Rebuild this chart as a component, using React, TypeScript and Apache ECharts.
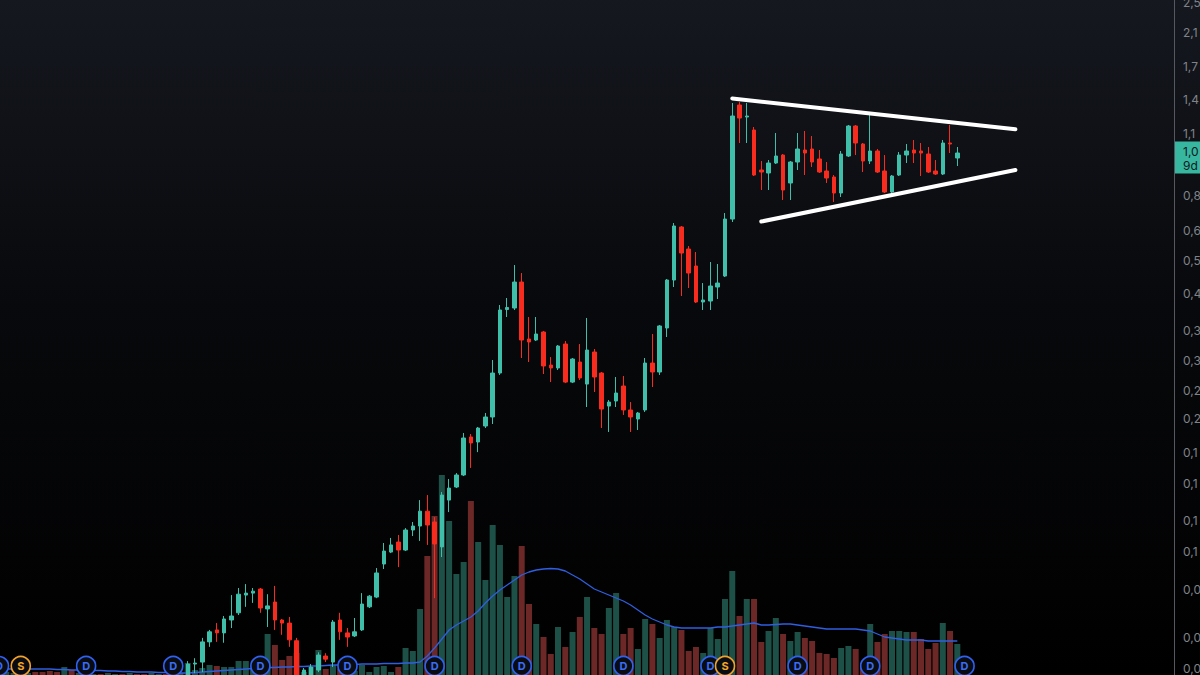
import React, { useEffect, useRef } from "react";
import * as echarts from "echarts";

// ---------- data ----------
const FIRST_CANDLE = 26; // earlier candles are below the visible price range
const SLOT_COUNT = 162;

const opens = [
  0.0476, 0.0514, 0.0520, 0.0586, 0.0629, 0.0618, 0.0667, 0.0696, 0.0773, 0.0782,
  0.0801, 0.0712, 0.0742, 0.0667, 0.0655, 0.0590, 0.0479, 0.0482, 0.0496, 0.0539,
  0.0520, 0.0667, 0.0618, 0.0607, 0.0629, 0.0721, 0.0764, 0.0929, 0.0997, 0.1058,
  0.1009, 0.1136, 0.1163, 0.1270, 0.1191, 0.1028, 0.1356, 0.1465, 0.1573, 0.1970,
  0.1912, 0.2102, 0.2217, 0.2876, 0.4188, 0.4225, 0.4927, 0.3517, 0.3496, 0.3666,
  0.3015, 0.2963, 0.3414, 0.2726, 0.3069, 0.2694, 0.3256, 0.2876, 0.2365, 0.2437,
  0.2663, 0.2311, 0.2191, 0.2311, 0.3051, 0.2893, 0.3754, 0.4986, 0.6823, 0.5990,
  0.5417, 0.4378, 0.4404, 0.4784, 0.5105, 0.7153, 1.4044, 1.3081, 1.2113, 0.9560,
  0.9392, 0.9964, 1.0447, 0.8852, 1.0023, 1.0761, 1.0825, 1.0203, 0.9504, 0.9172,
  0.8343, 1.0386, 1.2403, 1.1150, 1.0083, 1.0698, 0.9504, 0.8393, 0.9281, 1.0447,
  1.0761, 1.0698, 1.0509, 0.9504, 0.9336, 1.1216, 1.0264,
];
const closes = [
  0.0514, 0.0517, 0.0586, 0.0622, 0.0618, 0.0671, 0.0683, 0.0777, 0.0782, 0.0791,
  0.0716, 0.0725, 0.0667, 0.0655, 0.0593, 0.0479, 0.0496, 0.0505, 0.0542, 0.0529,
  0.0659, 0.0622, 0.0603, 0.0622, 0.0733, 0.0768, 0.0881, 0.1003, 0.1040, 0.1009,
  0.1136, 0.1163, 0.1270, 0.1170, 0.1046, 0.1397, 0.1456, 0.1573, 0.1958, 0.1901,
  0.2077, 0.2217, 0.2876, 0.4176, 0.4238, 0.4927, 0.3496, 0.3455, 0.3623, 0.2998,
  0.2963, 0.3374, 0.2726, 0.3124, 0.2793, 0.3295, 0.2809, 0.2324, 0.2422, 0.2555,
  0.2311, 0.2217, 0.2270, 0.3051, 0.2893, 0.3799, 0.4986, 0.6864, 0.5850, 0.5197,
  0.4378, 0.4430, 0.4812, 0.4898, 0.7153, 1.3159, 1.3005, 1.3159, 0.9281, 0.9447,
  0.9964, 1.0386, 0.8493, 1.0023, 1.0825, 1.0572, 1.0023, 0.9447, 0.9118, 0.8343,
  1.0509, 1.2403, 1.1216, 1.0083, 1.0698, 0.9447, 0.8393, 0.9226, 1.0447, 1.0698,
  1.0572, 1.0572, 0.9447, 0.9336, 1.1216, 1.1150, 1.0572,
];
const lows = [
  0.0468, 0.0487, 0.0490, 0.0569, 0.0586, 0.0583, 0.0636, 0.0687, 0.0721, 0.0738,
  0.0696, 0.0640, 0.0629, 0.0611, 0.0569, 0.0473, 0.0473, 0.0473, 0.0490, 0.0520,
  0.0505, 0.0593, 0.0569, 0.0603, 0.0625, 0.0716, 0.0759, 0.0902, 0.0991, 0.0912,
  0.1003, 0.1096, 0.1065, 0.1040, 0.0759, 0.0968, 0.1263, 0.1456, 0.1563, 0.1640,
  0.1801, 0.2077, 0.2127, 0.2843, 0.4006, 0.4176, 0.3143, 0.3069, 0.3475, 0.2859,
  0.2726, 0.2928, 0.2710, 0.2710, 0.2759, 0.2352, 0.2570, 0.2077, 0.2029, 0.2352,
  0.2244, 0.2029, 0.2053, 0.2284, 0.2647, 0.2843, 0.3559, 0.4784, 0.4536, 0.4756,
  0.4352, 0.4176, 0.4176, 0.4456, 0.5075, 0.7028, 1.1216, 1.1216, 0.9226, 0.8493,
  0.8493, 0.9906, 0.8005, 0.8005, 0.9560, 0.9281, 0.9731, 0.9392, 0.8852, 0.7911,
  0.8148, 1.0324, 1.0447, 0.9447, 0.9906, 0.9392, 0.8343, 0.8197, 0.9226, 0.9964,
  0.9964, 0.9226, 0.9392, 0.9281, 0.9281, 1.0572, 0.9789,
];
const highs = [
  0.0523, 0.0532, 0.0600, 0.0629, 0.0655, 0.0683, 0.0773, 0.0806, 0.0825, 0.0806,
  0.0806, 0.0777, 0.0816, 0.0671, 0.0679, 0.0600, 0.0502, 0.0514, 0.0551, 0.0548,
  0.0667, 0.0696, 0.0636, 0.0675, 0.0782, 0.0773, 0.0907, 0.1052, 0.1084, 0.1103,
  0.1149, 0.1191, 0.1356, 0.1397, 0.1226, 0.1422, 0.1536, 0.1591, 0.2017, 0.2005,
  0.2090, 0.2270, 0.3106, 0.4301, 0.4483, 0.5449, 0.5197, 0.4006, 0.4006, 0.3688,
  0.3161, 0.3394, 0.3475, 0.3143, 0.3414, 0.3983, 0.3315, 0.2893, 0.2451, 0.2809,
  0.2826, 0.2422, 0.2284, 0.3143, 0.3623, 0.3821, 0.5016, 0.6987, 0.6864, 0.6097,
  0.5885, 0.4898, 0.5547, 0.5482, 0.7412, 1.4211, 1.4295, 1.4211, 1.2331, 1.0083,
  1.0143, 1.1900, 1.0509, 1.0083, 1.1900, 1.2042, 1.1690, 1.0761, 1.0023, 0.9281,
  1.0698, 1.2477, 1.2477, 1.1216, 1.3237, 1.0825, 1.0447, 0.9281, 1.0634, 1.1150,
  1.1417, 1.1216, 1.0954, 1.0143, 1.1417, 1.2477, 1.0954,
];

// volume for every slot from index 0
const volumes = [
  3, 3, 2, 2, 2, 3, 3, 4, 3, 8, 5, 2, 2, 1, 1, 2, 1, 1, 2, 1, 1, 2, 1, 1, 2, 2,
  12, 5, 7, 10, 9, 8, 8, 14, 14, 6, 5, 41, 30, 15, 19, 22, 3, 8, 25, 6, 10, 6, 5, 4,
  10, 3, 8, 9, 3, 8, 27, 24, 66, 119, 159, 203, 154, 101, 113, 174, 133, 95, 150, 130,
  78, 99, 129, 71, 51, 38, 21, 48, 28, 43, 58, 78, 47, 41, 67, 82, 41, 47, 26, 56,
  51, 37, 55, 48, 45, 24, 28, 22, 47, 36, 76, 104, 59, 76, 76, 33, 44, 57, 41, 34,
  43, 37, 34, 22, 21, 17, 27, 29, 26, 12, 51, 33, 41, 44, 44, 43, 43, 36, 26, 32,
  52, 44, 31,
];
const earlyVolumeUp = [0, 1, 1, 0, 1, 0, 0, 0, 0, 1, 0, 1, 0, 1, 0, 1, 1, 0, 1, 0, 0, 1, 1, 0, 1, 1];
const volumeMA = [
  6, 6, 6, 6, 6, 6, 6, 6, 5.5, 5.5, 5, 5, 5, 4.5, 4.5, 4, 4, 3.5, 3.5, 3, 3, 3, 2.5, 2.5, 2.5, 2,
  2, 2.5, 3, 3.5, 4, 4.5, 5, 5.5, 6, 6.5, 7, 7.5, 7.5, 8, 8, 8.5, 8.5, 9, 9, 9.5, 10, 10, 10.5, 10.5,
  11, 11, 11, 11.5, 11.5, 11.5, 12, 12, 13, 19, 27, 36, 45, 50, 54, 58, 64, 72, 79, 85,
  90, 95, 100, 103, 105, 106, 106.5, 106, 104, 100, 96, 91, 86, 83, 80, 77, 74, 70, 65, 60,
  56, 53, 50, 48, 47, 47, 47, 47, 47, 48, 48, 49, 50, 51, 52, 50, 50, 50.5, 51, 51,
  50, 49, 48, 47, 46, 46, 46, 46, 46, 45, 44, 41, 38, 37, 36, 35, 35, 35, 34, 34,
  34, 34, 34,
];

const dividendIdx = [0, 12, 24, 36, 48, 60, 72, 86, 98, 110, 120, 133];
const splitIdx = [3, 100];
const MARKER_LEVEL = 9;

const tickValues = [2.58, 2.16, 1.76, 1.45, 1.19, 0.82, 0.67, 0.56, 0.46, 0.37, 0.31, 0.26, 0.22, 0.18, 0.15, 0.12, 0.1, 0.08, 0.06, 0.05];
const tickLabels = ["2,5", "2,1", "1,7", "1,4", "1,1", "0,8", "0,6", "0,5", "0,4", "0,3", "0,3", "0,2", "0,2", "0,1", "0,1", "0,1", "0,1", "0,0", "0,0", "0,0"];

const upperTrendIdx = [101, 140];
const upperTrendPrice = [1.46, 1.216];
const lowerTrendIdx = [105, 140];
const lowerTrendPrice = [0.705, 0.956];

const PRICE_MIN = 0.04817;
const PRICE_MAX = 2.6142;
const COUNTDOWN = "9d";

// ---------- styling ----------
const UP = "#3fbfa9";
const DOWN = "#f72c1f";
const VOL_UP = "#1d5047";
const VOL_DOWN = "#6b2826";
const FONT = 'Inter, "Noto Sans", Roboto, sans-serif';

export default function App() {
  const ref = useRef<HTMLDivElement>(null);

  useEffect(() => {
    if (!ref.current) return;
    const chart = echarts.init(ref.current, undefined, { renderer: "svg" });

    const cats = Array.from({ length: SLOT_COUNT }, (_, i) => String(i));
    const candleRows = opens.map((o, j) => [
      FIRST_CANDLE + j,
      Math.log(o),
      Math.log(closes[j]),
      Math.log(lows[j]),
      Math.log(highs[j]),
    ]);
    const volumeRows = volumes.map((v, i) => {
      const up =
        i < FIRST_CANDLE
          ? earlyVolumeUp[i] === 1
          : closes[i - FIRST_CANDLE] >= opens[i - FIRST_CANDLE];
      return { value: [i, v], itemStyle: { color: up ? VOL_UP : VOL_DOWN } };
    });
    const maRows = volumeMA.map((v, i) => [i, v]);
    const tickLogs = tickValues.map((v) => Math.log(v));
    const lastClose = closes[closes.length - 1];
    const lastText = (Math.floor(lastClose * 10) / 10).toFixed(1).replace(".", ",");

    const gridL = -4.63;
    const gridR = 28.51;

    const markerSeries = (idx: number[], letter: string, color: string, textColor: string) => ({
      type: "scatter",
      xAxisIndex: 1,
      yAxisIndex: 1,
      z: 6,
      symbol: "circle",
      symbolSize: 19,
      data: idx.map((i) => [i, MARKER_LEVEL]),
      itemStyle: { color: "#0a0c13", borderColor: color, borderWidth: 1.6, opacity: 1 },
      label: {
        show: true,
        position: "inside",
        formatter: letter,
        color: textColor,
        fontSize: 11,
        fontWeight: "bold",
        fontFamily: FONT,
      },
      silent: true,
    });

    chart.setOption({
      animation: false,
      backgroundColor: {
        type: "linear",
        x: 0,
        y: 0,
        x2: 0,
        y2: 1,
        colorStops: [
          { offset: 0, color: "#15181f" },
          { offset: 0.45, color: "#08090c" },
          { offset: 1, color: "#000000" },
        ],
      },
      grid: [
        { left: gridL, right: gridR, top: 0, bottom: 0, outerBoundsMode: "none", containLabel: false },
        { left: gridL, right: gridR, top: 475, bottom: 0, outerBoundsMode: "none", containLabel: false },
      ],
      xAxis: [
        { type: "category", data: cats, gridIndex: 0, show: false, boundaryGap: true },
        { type: "category", data: cats, gridIndex: 1, show: false, boundaryGap: true },
      ],
      yAxis: [
        {
          type: "value",
          gridIndex: 0,
          position: "right",
          offset: 2.5,
          min: Math.log(PRICE_MIN),
          max: Math.log(PRICE_MAX),
          splitLine: { show: false },
          axisTick: { show: false },
          axisLine: { show: true, lineStyle: { color: "#55585f", width: 1 } },
          axisLabel: {
            show: true,
            customValues: tickLogs,
            margin: 9,
            color: "#80838a",
            fontSize: 12,
            fontFamily: FONT,
            formatter: (v: number) => {
              let best = 0;
              for (let j = 1; j < tickLogs.length; j++) {
                if (Math.abs(tickLogs[j] - v) < Math.abs(tickLogs[best] - v)) best = j;
              }
              return tickLabels[best];
            },
          },
        },
        { type: "value", gridIndex: 1, min: 0, max: 200, show: false },
      ],
      series: [
        {
          type: "bar",
          xAxisIndex: 1,
          yAxisIndex: 1,
          z: 1,
          barWidth: 6,
          data: volumeRows,
          silent: true,
        },
        {
          type: "line",
          xAxisIndex: 1,
          yAxisIndex: 1,
          z: 2,
          data: maRows,
          symbol: "none",
          lineStyle: { color: "#2f5fe0", width: 1.3 },
          silent: true,
        },
        {
          type: "candlestick",
          xAxisIndex: 0,
          yAxisIndex: 0,
          z: 3,
          barWidth: 4,
          clip: true,
          encode: { x: 0, y: [1, 2, 3, 4] },
          data: candleRows,
          itemStyle: {
            color: UP,
            color0: DOWN,
            borderColor: UP,
            borderColor0: DOWN,
            borderWidth: 1,
          },
          silent: true,
        },
        {
          type: "line",
          xAxisIndex: 0,
          yAxisIndex: 0,
          z: 5,
          symbol: "none",
          data: upperTrendIdx.map((x, j) => [x, Math.log(upperTrendPrice[j])]),
          lineStyle: { color: "#ffffff", width: 4, cap: "round" },
          silent: true,
        },
        {
          type: "line",
          xAxisIndex: 0,
          yAxisIndex: 0,
          z: 5,
          symbol: "none",
          data: lowerTrendIdx.map((x, j) => [x, Math.log(lowerTrendPrice[j])]),
          lineStyle: { color: "#ffffff", width: 4, cap: "round" },
          silent: true,
        },
        markerSeries(dividendIdx, "D", "#2f62f2", "#3b6cf5"),
        markerSeries(splitIdx, "S", "#f2a228", "#f5a623"),
      ],
      graphic: [
        {
          type: "group",
          z: 100,
          children: [
            { type: "rect", shape: { x: 1174, y: 141.5, width: 30, height: 32 }, style: { fill: "#37b6a0" } },
            {
              type: "text",
              x: 1183,
              y: 145,
              style: { text: lastText, fill: "#0c1a1c", font: `12px ${FONT}` },
            },
            {
              type: "text",
              x: 1183,
              y: 159,
              style: { text: COUNTDOWN, fill: "#0c1a1c", font: `12px ${FONT}` },
            },
          ],
        },
      ],
    });

    return () => chart.dispose();
  }, []);

  return (
    <div
      ref={ref}
      style={{ position: "fixed", left: 0, top: 0, width: 1200, height: 675 }}
    />
  );
}
